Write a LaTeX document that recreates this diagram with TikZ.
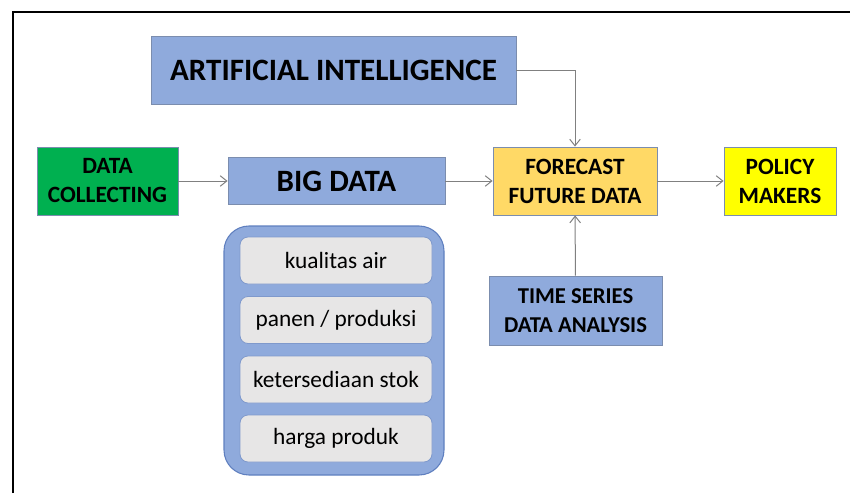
\documentclass[tikz,border=0pt]{standalone}
\usepackage{fontspec}
\setmainfont{Carlito}
\usetikzlibrary{arrows.meta}
\definecolor{boxblue}{HTML}{8FAADC}
\definecolor{boxedge}{HTML}{7B8DAE}
\definecolor{boxgreen}{HTML}{00B050}
\definecolor{boxgold}{HTML}{FFD966}
\definecolor{boxyellow}{HTML}{FFFF00}
\definecolor{itemgray}{HTML}{E7E6E6}
\definecolor{groupedge}{HTML}{5F7FBF}
\definecolor{linkgray}{HTML}{808080}
\tikzset{
  card/.style={draw=boxedge, line width=0.6pt, inner sep=0pt, align=center,
    font=\bfseries\fontsize{17.5}{21.75}\selectfont},
  bluecard/.style={card, fill=boxblue},
  itembox/.style={draw=groupedge!80, fill=itemgray, line width=0.6pt,
    rounded corners=6pt, minimum width=144pt, minimum height=35.25pt,
    inner sep=0pt, font=\fontsize{17.5}{20}\selectfont},
  link/.style={draw=linkgray, line width=0.75pt,
    -{Straight Barb[length=5pt,width=8pt]}}
}
\begin{document}
\begin{tikzpicture}[x=0.75pt,y=-0.75pt]
\useasboundingbox (0,0) rectangle (850,493);
% page frame
\draw[line width=1.1pt] (13,493) -- (13,12) -- (850,12);

% main boxes
\node[bluecard, minimum width=273.75pt, minimum height=51pt,
  font=\bfseries\fontsize{23.3}{28}\selectfont] (ai) at (333.5,70) {ARTIFICIAL INTELLIGENCE};
\node[card, fill=boxgreen, minimum width=105.75pt, minimum height=51pt] (dc) at (107.5,181) {DATA\\COLLECTING};
\node[bluecard, minimum width=162.75pt, minimum height=35.25pt,
  font=\bfseries\fontsize{23.3}{26}\selectfont] (bd) at (336.5,181) {BIG DATA};
\node[card, fill=boxgold, minimum width=123pt, minimum height=51pt] (fc) at (575,181) {FORECAST\\FUTURE DATA};
\node[card, fill=boxyellow, minimum width=84pt, minimum height=51pt] (pm) at (780,181) {POLICY\\MAKERS};
\node[bluecard, minimum width=129.75pt, minimum height=51.75pt,
  font=\bfseries\fontsize{17}{21.75}\selectfont] (ts) at (575.5,310.5) {TIME SERIES\\DATA ANALYSIS};

% big data sources
\node[draw=groupedge, fill=boxblue, line width=0.8pt, rounded corners=18.75pt,
  minimum width=165pt, minimum height=186.75pt, inner sep=0pt] (grp) at (334,350.5) {};
\node[itembox] (s1) at (336,260.5) {kualitas air};
\node[itembox] (s2) at (336,320) {panen / produksi};
\node[itembox] (s3) at (336,379.5) {ketersediaan stok};
\node[itembox] (s4) at (336,438.5) {harga produk};

% connectors
\draw[link] (dc) -- (bd);
\draw[link] (bd) -- (fc);
\draw[link] (fc) -- (pm);
\draw[link] (ai.east) -| (fc.north);
\draw[link] (ts) -- (fc);
\end{tikzpicture}
\end{document}
